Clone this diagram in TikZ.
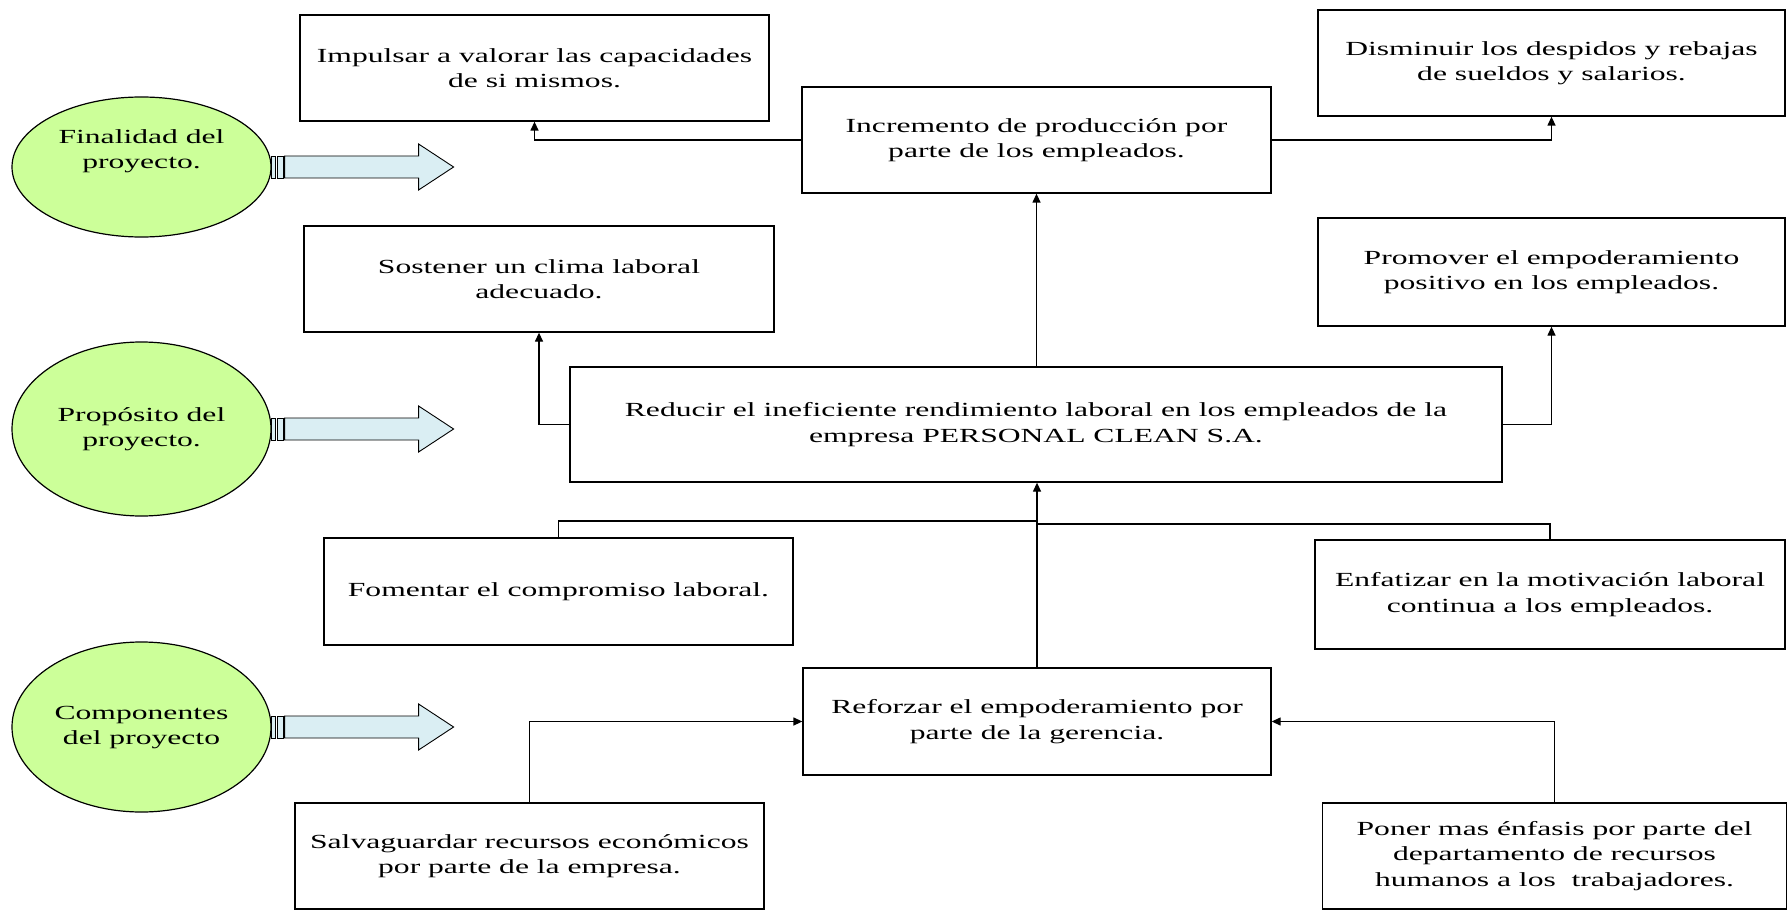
\documentclass[tikz,border=0pt]{standalone}
\usepackage{fontspec}
\setmainfont{Liberation Serif}[FakeStretch=1.58]
\usetikzlibrary{shapes.geometric,arrows.meta}
\definecolor{lime}{RGB}{204,255,153}
\definecolor{paleblue}{RGB}{218,238,243}
\tikzset{
  box/.style={draw, line width=1.3pt, rectangle, align=center, inner sep=0pt,
    font=\fontsize{20}{25.5}\selectfont},
  goal/.style={draw, line width=1.2pt, ellipse, fill=lime, align=center, inner sep=0pt,
    font=\fontsize{20}{25.5}\selectfont},
  conn/.style={line width=1.3pt},
  tip/.style={conn, -{Triangle[length=9pt,width=8pt]}},
  stripe/.style={draw, line width=0.9pt, fill=paleblue}
}
% striped block arrow leaving the right side of a node
\newcommand\stripedarrow[1]{%
  \begin{scope}[shift={(#1.east)}]
    \path[stripe] (0,-11) rectangle (4,11);
    \path[stripe] (6,-11) rectangle (12,11);
    \path[stripe] (13,-11) -- (147,-11) -- (147,-23) -- (182,0) -- (147,23) -- (147,11) -- (13,11) -- cycle;
  \end{scope}}
\begin{document}
\begin{tikzpicture}[x=1pt,y=-1pt]
\useasboundingbox (0,0) rectangle (1788,912);

% level labels
\node[goal, minimum width=259pt, minimum height=140pt,
  label={[align=center, font=\fontsize{20}{25.5}\selectfont, yshift=16pt]center:Finalidad del\\proyecto.}]
  (fin) at (141.5,167) {};
\node[goal, minimum width=259pt, minimum height=174pt] (pro) at (141.5,429) {Propósito del\\proyecto.};
\node[goal, minimum width=259pt, minimum height=170pt] (com) at (141.5,727) {\raisebox{-6pt}{\begin{tabular}{@{}c@{}}Componentes\\del proyecto\end{tabular}}};
\stripedarrow{fin}
\stripedarrow{pro}
\stripedarrow{com}

% boxes
\node[box, minimum width=469pt, minimum height=106pt] (imp) at (534.5,68) {Impulsar a valorar las capacidades\\de si mismos.};
\node[box, minimum width=469pt, minimum height=106pt] (inc) at (1036.5,140) {Incremento de producción por\\parte de los empleados.};
\node[box, minimum width=467pt, minimum height=106pt] (dis) at (1551.5,63) {Disminuir los despidos y rebajas\\de sueldos y salarios.};
\node[box, minimum width=470pt, minimum height=106pt] (sos) at (539,279) {Sostener un clima laboral\\adecuado.};
\node[box, minimum width=467pt, minimum height=108pt] (prm) at (1551.5,272) {Promover el empoderamiento\\positivo en los empleados.};
\node[box, minimum width=932pt, minimum height=115pt] (red) at (1036,424.5) {Reducir el ineficiente rendimiento laboral en los empleados de la\\empresa PERSONAL CLEAN S.A.};
\node[box, minimum width=469pt, minimum height=107pt] (fom) at (558.5,591.5) {Fomentar el compromiso laboral.};
\node[box, minimum width=470pt, minimum height=109pt] (enf) at (1550,594.5) {Enfatizar en la motivación laboral\\continua a los empleados.};
\node[box, minimum width=468pt, minimum height=107pt] (ref) at (1037,721.5) {Reforzar el empoderamiento por\\parte de la gerencia.};
\node[box, minimum width=469pt, minimum height=106pt] (sal) at (529.5,856) {Salvaguardar recursos económicos\\por parte de la empresa.};
\node[box, minimum width=464pt, minimum height=106pt] (pon) at (1554.5,856) {Poner mas énfasis por parte del\\departamento de recursos\\humanos a los\ \ trabajadores.};

% junction points of the merging lines
\coordinate (jl) at (1037,521);
\coordinate (jr) at (1037,524);

% connectors
\draw[tip] (inc.west) -| (imp.south);
\draw[tip] (inc.east) -| (dis.south);
\draw[tip] (red.north -| inc.south) -- (inc.south);
\draw[tip] (red.west) -| (sos.south);
\draw[tip] (red.east) -| (prm.south);
\draw[tip] (ref.north) -- (ref.north |- red.south);
\draw[conn] (fom.north) |- (jl);
\draw[conn] (enf.north) |- (jr);
\draw[tip] (sal.north) |- (ref.west);
\draw[tip] (pon.north) |- (ref.east);
\end{tikzpicture}
\end{document}
